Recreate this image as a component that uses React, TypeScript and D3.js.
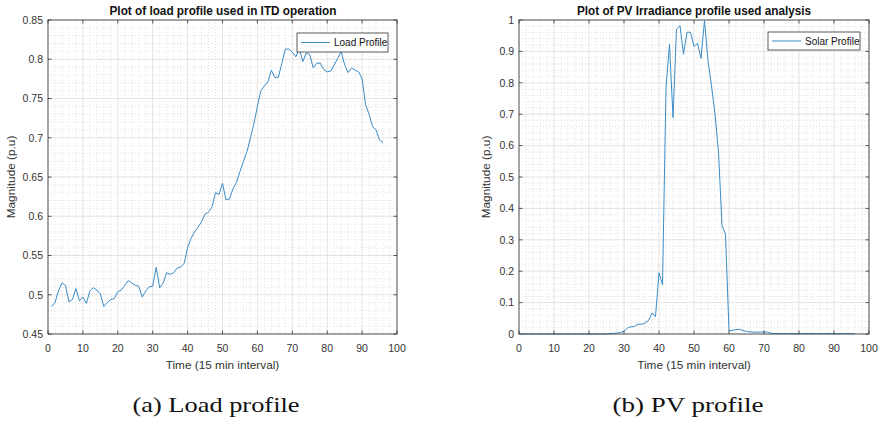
import React from "react";
import * as d3 from "d3";

// ---- data ----
const loadValues: number[] = [
  0.485, 0.49, 0.505, 0.515, 0.512, 0.491, 0.494, 0.508, 0.492, 0.497,
  0.489, 0.505, 0.509, 0.506, 0.501, 0.485, 0.49, 0.494, 0.495, 0.504,
  0.506, 0.512, 0.518, 0.515, 0.512, 0.511, 0.497, 0.505, 0.51, 0.511,
  0.535, 0.509, 0.515, 0.528, 0.526, 0.528, 0.534, 0.535, 0.54, 0.56,
  0.572, 0.58, 0.586, 0.593, 0.603, 0.605, 0.612, 0.63, 0.628, 0.642,
  0.621, 0.622, 0.635, 0.643, 0.657, 0.67, 0.682, 0.7, 0.718, 0.74,
  0.76, 0.766, 0.771, 0.786, 0.777, 0.777, 0.795, 0.813, 0.813, 0.809,
  0.803, 0.814, 0.797, 0.808, 0.806, 0.789, 0.795, 0.795, 0.787, 0.784,
  0.785, 0.793, 0.801, 0.81, 0.793, 0.783, 0.789, 0.786, 0.784, 0.775,
  0.742, 0.73, 0.714, 0.71, 0.697, 0.694,
];

const solarValues: number[] = [
  0, 0, 0, 0, 0, 0, 0, 0, 0, 0,
  0, 0, 0, 0, 0, 0, 0, 0, 0, 0,
  0, 0, 0, 0, 0, 0.001, 0.002, 0.003, 0.005, 0.009,
  0.019, 0.023, 0.024, 0.031, 0.031, 0.035, 0.043, 0.066, 0.056, 0.195,
  0.157, 0.785, 0.923, 0.689, 0.971, 0.982, 0.891, 0.961, 0.961, 0.916,
  0.926, 0.878, 0.998, 0.87, 0.79, 0.7, 0.58, 0.345, 0.318, 0.01,
  0.012, 0.014, 0.015, 0.011, 0.008, 0.007, 0.006, 0.006, 0.006, 0.007,
  0.006, 0.002, 0.001, 0.001, 0.001, 0.001, 0.001, 0.001, 0.001, 0.001,
  0.001, 0.001, 0.001, 0.001, 0.001, 0.001, 0.001, 0.001, 0.001, 0.001,
  0.001, 0.001, 0.001, 0.001, 0.001, 0.001,
];

const xTicks: number[] = [0, 10, 20, 30, 40, 50, 60, 70, 80, 90, 100];
const loadYTicks: number[] = [0.45, 0.5, 0.55, 0.6, 0.65, 0.7, 0.75, 0.8, 0.85];
const solarYTicks: number[] = [0, 0.1, 0.2, 0.3, 0.4, 0.5, 0.6, 0.7, 0.8, 0.9, 1];

const loadTitle = "Plot of load profile used in ITD operation";
const solarTitle = "Plot of PV Irradiance profile used analysis";
const xLabel = "Time (15 min interval)";
const yLabel = "Magnitude (p.u)";

const LINE = "#3a8cc6";
const AX = "#333333";
const SANS = "'Liberation Sans', Arial, Helvetica, sans-serif";

type PanelProps = {
  left: number;
  right: number;
  top: number;
  bottom: number;
  yDomain: [number, number];
  yTicks: number[];
  yMinorStep: number;
  yFmt: (v: number) => string;
  values: number[];
  title: string;
  titleX: number;
  titleWidth: number;
  legend: string;
  legendBox: [number, number, number, number];
  yLabelX: number;
  caption: string;
  captionX: number;
  captionWidth: number;
};

function Panel(p: PanelProps) {
  const x = d3.scaleLinear().domain([0, 100]).range([p.left, p.right]);
  const y = d3.scaleLinear().domain(p.yDomain).range([p.bottom, p.top]);
  const xMinor = d3.range(0, 100.001, 2).filter((v) => v % 10 !== 0);
  const nMinor = Math.round((p.yDomain[1] - p.yDomain[0]) / p.yMinorStep);
  const yMinor = d3
    .range(0, nMinor + 1)
    .map((i) => p.yDomain[0] + i * p.yMinorStep)
    .filter((v) => !p.yTicks.some((t) => Math.abs(t - v) < 1e-9));
  const line = d3
    .line<number>()
    .x((_, i) => x(i + 1))
    .y((d) => y(d));
  const tl = 3.5;
  const [lx, ly, lw, lh] = p.legendBox;
  const midX = (p.left + p.right) / 2;
  const midY = (p.top + p.bottom) / 2;
  return (
    <g>
      <rect x={p.left} y={p.top} width={p.right - p.left} height={p.bottom - p.top} fill="#fff" />
      {/* minor grid */}
      {xMinor.map((v) => (
        <line key={"xm" + v} x1={x(v)} x2={x(v)} y1={p.top} y2={p.bottom} stroke="#d4d4d4" strokeWidth={0.7} strokeDasharray="1,2" />
      ))}
      {yMinor.map((v, i) => (
        <line key={"ym" + i} x1={p.left} x2={p.right} y1={y(v)} y2={y(v)} stroke="#d4d4d4" strokeWidth={0.7} strokeDasharray="1,2" />
      ))}
      {/* major grid */}
      {xTicks.map((v) => (
        <line key={"xg" + v} x1={x(v)} x2={x(v)} y1={p.top} y2={p.bottom} stroke="#dcdcdc" strokeWidth={0.8} />
      ))}
      {p.yTicks.map((v) => (
        <line key={"yg" + v} x1={p.left} x2={p.right} y1={y(v)} y2={y(v)} stroke="#dcdcdc" strokeWidth={0.8} />
      ))}
      {/* data line */}
      <path d={line(p.values) || ""} fill="none" stroke={LINE} strokeWidth={1} strokeLinejoin="round" />
      {/* box */}
      <rect x={p.left} y={p.top} width={p.right - p.left} height={p.bottom - p.top} fill="none" stroke={AX} strokeWidth={0.8} />
      {/* ticks */}
      {xTicks.map((v) => (
        <g key={"xt" + v}>
          <line x1={x(v)} x2={x(v)} y1={p.bottom} y2={p.bottom - tl} stroke={AX} strokeWidth={0.8} />
          <line x1={x(v)} x2={x(v)} y1={p.top} y2={p.top + tl} stroke={AX} strokeWidth={0.8} />
          <text x={x(v)} y={p.bottom + 18} textAnchor="middle" fontSize={10.5} fill={AX} fontFamily={SANS}>
            {v}
          </text>
        </g>
      ))}
      {p.yTicks.map((v) => (
        <g key={"yt" + v}>
          <line x1={p.left} x2={p.left + tl} y1={y(v)} y2={y(v)} stroke={AX} strokeWidth={0.8} />
          <line x1={p.right} x2={p.right - tl} y1={y(v)} y2={y(v)} stroke={AX} strokeWidth={0.8} />
          <text x={p.left - 5} y={y(v) + 3.8} textAnchor="end" fontSize={10.5} fill={AX} fontFamily={SANS}>
            {p.yFmt(v)}
          </text>
        </g>
      ))}
      {/* title */}
      <text x={p.titleX} y={p.top - 5.5} textAnchor="middle" fontSize={12} fontWeight="bold" fill="#111" fontFamily={SANS} textLength={p.titleWidth} lengthAdjust="spacingAndGlyphs">
        {p.title}
      </text>
      {/* axis labels */}
      <text x={midX} y={p.bottom + 35} textAnchor="middle" fontSize={11.8} fill={AX} fontFamily={SANS}>
        {xLabel}
      </text>
      <text transform={`translate(${p.yLabelX},${midY}) rotate(-90)`} textAnchor="middle" fontSize={11.8} fill={AX} fontFamily={SANS}>
        {yLabel}
      </text>
      {/* legend */}
      <rect x={lx} y={ly} width={lw} height={lh} fill="#fff" stroke={AX} strokeWidth={0.8} />
      <line x1={lx + 4} x2={lx + 33} y1={ly + lh / 2} y2={ly + lh / 2} stroke={LINE} strokeWidth={1} />
      <text x={lx + 37} y={ly + lh / 2 + 3.6} fontSize={10} fill="#111" fontFamily={SANS}>
        {p.legend}
      </text>
      {/* caption */}
      <text x={p.captionX} y={412} textAnchor="middle" fontSize={22} fill="#111" fontFamily="'Liberation Serif', 'DejaVu Serif', serif" textLength={p.captionWidth} lengthAdjust="spacingAndGlyphs">
        {p.caption}
      </text>
    </g>
  );
}

export default function App() {
  return (
    <svg width={886} height={424} style={{ position: "absolute", left: 0, top: 0, background: "#fff" }}>
      <rect x={0} y={0} width={886} height={424} fill="#fff" />
      <Panel
        left={48}
        right={397}
        top={20}
        bottom={334}
        yDomain={[0.45, 0.85]}
        yTicks={loadYTicks}
        yMinorStep={0.01}
        yFmt={(v) => d3.format("")(+v.toFixed(2))}
        values={loadValues}
        title={loadTitle}
        titleX={223}
        titleWidth={227}
        legend="Load Profile"
        legendBox={[297, 33, 91, 19]}
        yLabelX={15}
        caption="(a) Load profile"
        captionX={216}
        captionWidth={167}
      />
      <Panel
        left={519}
        right={869}
        top={20}
        bottom={334}
        yDomain={[0, 1]}
        yTicks={solarYTicks}
        yMinorStep={0.02}
        yFmt={(v) => d3.format("")(+v.toFixed(1))}
        values={solarValues}
        title={solarTitle}
        titleX={694}
        titleWidth={234}
        legend="Solar Profile"
        legendBox={[768, 32, 92, 18]}
        yLabelX={490}
        caption="(b) PV profile"
        captionX={688}
        captionWidth={151}
      />
    </svg>
  );
}
